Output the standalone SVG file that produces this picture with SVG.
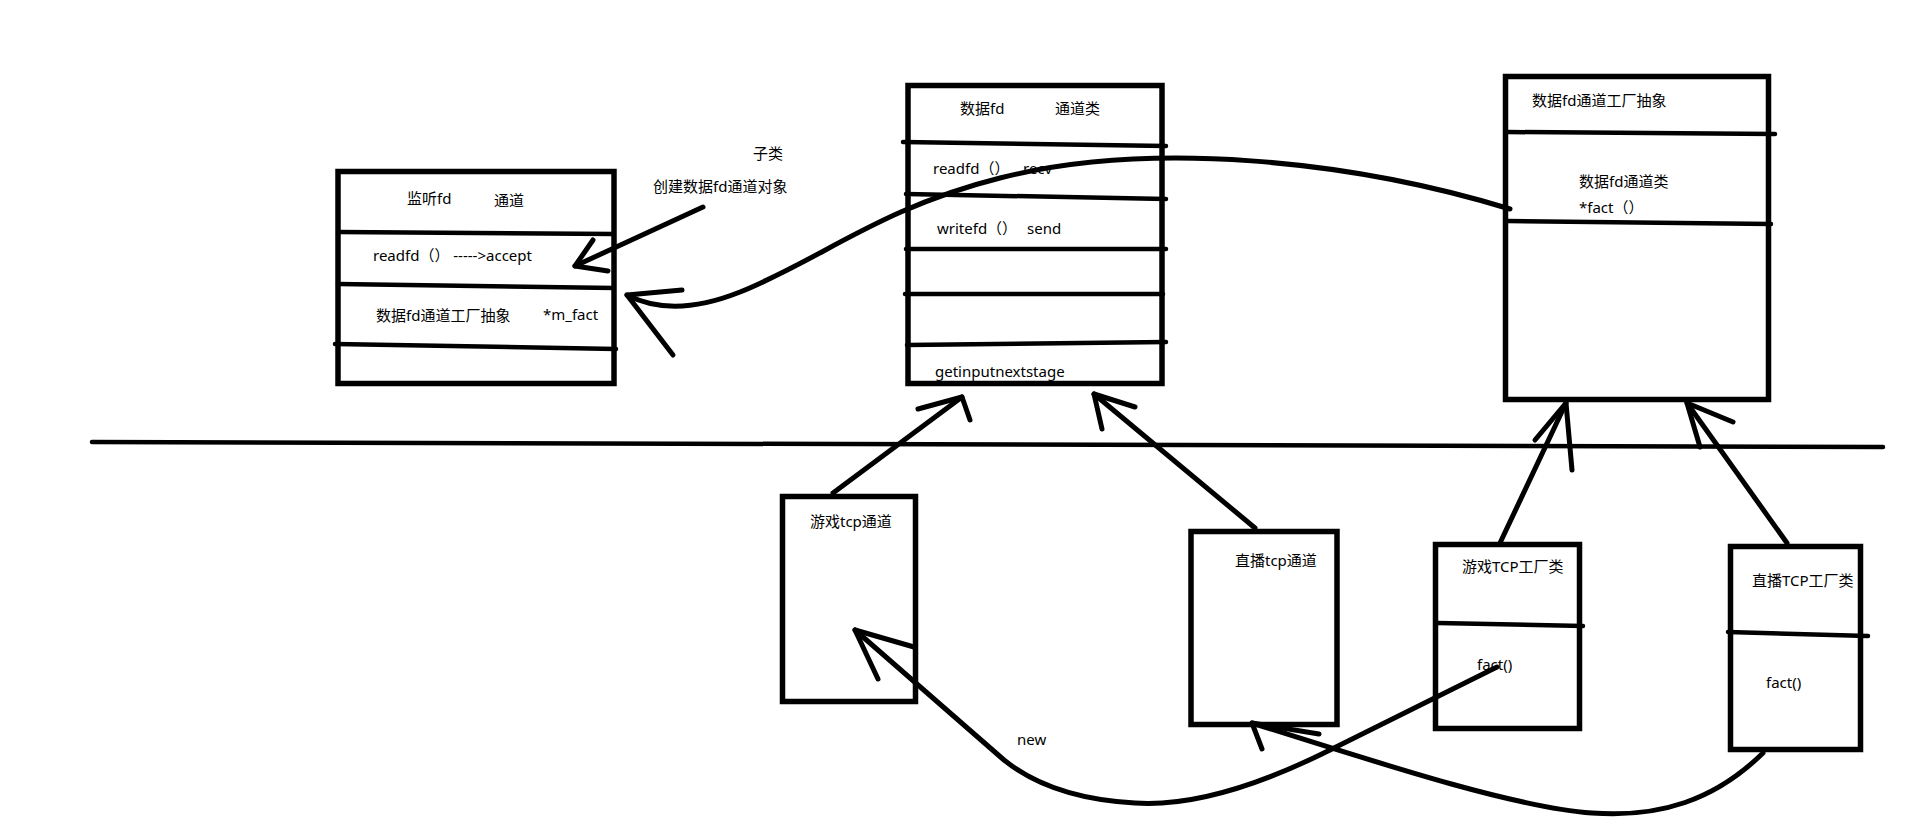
<svg xmlns="http://www.w3.org/2000/svg" width="1914" height="834" viewBox="0 0 1914 834">
<style>
.box{fill:none;stroke:#000;stroke-width:5.5}
.div{fill:none;stroke:#000;stroke-width:4.5;stroke-linecap:round}
.ln{fill:none;stroke:#000;stroke-width:5;stroke-linecap:round;stroke-linejoin:round}
text{font-family:"Noto Sans","Noto Sans CJK SC",sans-serif;font-size:15px;fill:#000}
</style>
<rect width="1914" height="834" fill="#fff"/>
<g id="listen-channel">
<rect class="box" x="338" y="171.5" width="276" height="212"/>
<path class="div" d="M338,232 L614,234"/>
<path class="div" d="M338,284 L614,288"/>
<path class="div" d="M335,344 L616,349"/>
<text x="407" y="204">监听fd</text>
<text x="494" y="206">通道</text>
<text x="373" y="261">readfd（） ----->accept</text>
<text x="376" y="321">数据fd通道工厂抽象</text>
<text x="543" y="320">*m_fact</text>
</g>
<g id="data-channel">
<rect class="box" x="908" y="85.5" width="254" height="298"/>
<path class="div" d="M903,142 L1166,146"/>
<path class="div" d="M906,194 L1166,199"/>
<path class="div" d="M906,249 L1166,249"/>
<path class="div" d="M905,294 L1163,294"/>
<path class="div" d="M907,345 L1166,342"/>
<text x="960" y="114">数据fd</text>
<text x="1055" y="114">通道类</text>
<text x="933" y="174">readfd（）<tspan x="1023">recv</tspan></text>
<text x="937" y="234">writefd（）<tspan x="1027">send</tspan></text>
<text x="935" y="377">getinputnextstage</text>
</g>
<g id="factory-abstract">
<rect class="box" x="1505.5" y="76.5" width="263" height="323"/>
<path class="div" d="M1508,132 L1775,134"/>
<path class="div" d="M1508,221 L1771,224"/>
<text x="1532" y="106">数据fd通道工厂抽象</text>
<text x="1579" y="187">数据fd通道类</text>
<text x="1579" y="213">*fact（）</text>
</g>
<g id="game-tcp-channel">
<rect class="box" x="782.5" y="496.5" width="133" height="205"/>
<text x="810" y="527">游戏tcp通道</text>
</g>
<g id="live-tcp-channel">
<rect class="box" x="1191" y="531.5" width="146" height="193"/>
<text x="1235" y="566">直播tcp通道</text>
</g>
<g id="game-tcp-factory">
<rect class="box" x="1435.5" y="544.5" width="144" height="184"/>
<path class="div" d="M1438,623 L1583,626"/>
<text x="1462" y="572">游戏TCP工厂类</text>
<text x="1477" y="670">fact()</text>
</g>
<g id="live-tcp-factory">
<rect class="box" x="1730.5" y="546.5" width="130" height="203"/>
<path class="div" d="M1728,632 L1868,636"/>
<text x="1752" y="586">直播TCP工厂类</text>
<text x="1766" y="688">fact()</text>
</g>
<g id="separator">
<path class="div" d="M92,442 L1883,447"/>
</g>
<g id="connectors">
<path class="ln" d="M703,207 L575,266"/>
<path class="ln" d="M593,240 L575,266 L608,271"/>
<text x="753" y="159">子类</text>
<text x="653" y="192">创建数据fd通道对象</text>
<path class="ln" d="M1510,209 C1350,160 1150,140 1000,178 C880,208 820,260 740,292 C700,308 660,312 627,295"/>
<path class="ln" d="M682,290 L627,295 L673,355"/>
<path class="ln" d="M833,493 L962,397"/>
<path class="ln" d="M918,409 L962,397 L970,420"/>
<path class="ln" d="M1255,528 L1094,394"/>
<path class="ln" d="M1135,407 L1094,394 L1102,429"/>
<path class="ln" d="M1500,543 L1566,403"/>
<path class="ln" d="M1535,440 L1566,403 L1572,470"/>
<path class="ln" d="M1787,543 L1687,403"/>
<path class="ln" d="M1733,422 L1687,403 L1700,447"/>
<path class="ln" d="M1497,667 L1330,750 C1240,795 1180,806 1135,803 C1080,800 1035,785 1004,760 L855,630"/>
<path class="ln" d="M914,647 L855,630 L878,679"/>
<path class="ln" d="M1763,753 C1715,800 1660,818 1592,813 C1520,808 1400,770 1252,723"/>
<path class="ln" d="M1319,734 L1252,723 L1262,749"/>
<text x="1017" y="745">new</text>
</g>
</svg>
